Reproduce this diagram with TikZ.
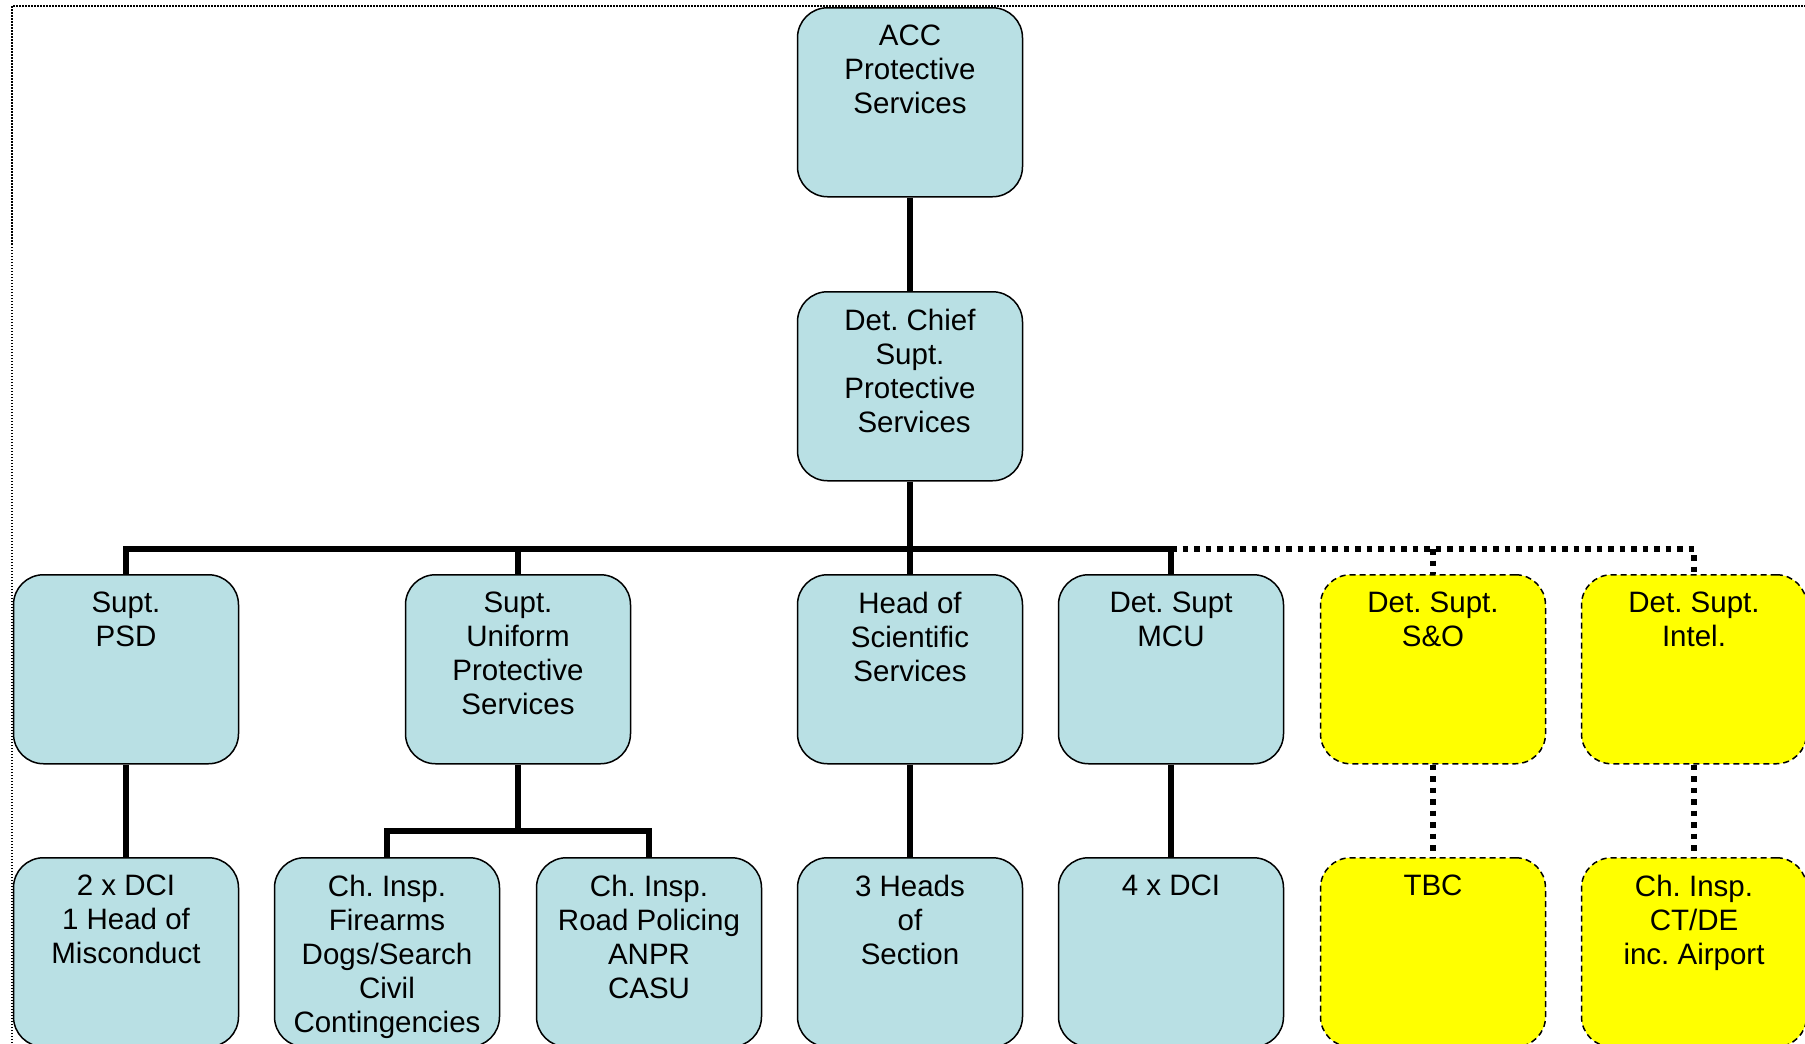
\documentclass[tikz,border=0pt]{standalone}
\usepackage{fontspec}
\setmainfont{Liberation Sans}
\frenchspacing
\definecolor{boxblue}{RGB}{185,224,228}
\definecolor{boxyellow}{RGB}{255,255,0}
\begin{document}
\begin{tikzpicture}[x=1pt,y=-1pt,
  unit/.style={draw=black, line width=1.5pt, rounded corners=30pt,
    minimum width=225pt, minimum height=189pt, anchor=north, inner sep=0pt},
  bluebox/.style={unit, fill=boxblue},
  yellowbox/.style={unit, fill=boxyellow, dash pattern=on 6pt off 4pt},
  lbl/.style={anchor=north, yshift=-18pt, align=center, inner sep=0pt,
    font=\fontsize{29.5}{34}\selectfont},
  conn/.style={line width=6pt, line join=miter},
  dotconn/.style={line width=5.5pt, dash pattern=on 5.5pt off 6pt},
  frame/.style={line width=1.3pt, dash pattern=on 1.5pt off 1.5pt}
]
\useasboundingbox (0,0) rectangle (1805,1044);
\clip (0,0) rectangle (1805,1044);

% outer page frame
\draw[frame] (12,1100) -- (12,6) -- (1900,6);

% bus levels
\coordinate (bus) at (0,549);
\coordinate (sub) at (0,831);

% boxes
\node[bluebox, label={[lbl]north:{ACC\\Protective\\Services}}] (acc) at (910,7) {};
\node[bluebox, label={[lbl]north:{Det. Chief\\Supt.\\Protective\\\hspace*{0.278em}Services}}] (dcs) at (910,291) {};

\node[bluebox, label={[lbl]north:{Supt.\\PSD}}] (psd) at (126,574) {};
\node[bluebox, label={[lbl]north:{Supt.\\Uniform\\Protective\\Services}}] (uni) at (518,574) {};
\node[bluebox, label={[lbl]north:{Head of\\Scientific\\Services}}] (sci) at (910,574) {};
\node[bluebox, label={[lbl]north:{Det. Supt\\MCU}}] (mcu) at (1171,574) {};
\node[yellowbox, label={[lbl]north:{Det. Supt.\\S\&O}}] (so) at (1433,574) {};
\node[yellowbox, label={[lbl]north:{Det. Supt.\\Intel.}}] (intel) at (1694,574) {};

\node[bluebox, label={[lbl]north:{2 x DCI\\1 Head of\\Misconduct}}] (dci) at (126,857) {};
\node[bluebox, label={[lbl]north:{Ch. Insp.\\Firearms\\Dogs/Search\\Civil\\Contingencies}}] (fire) at (387,857) {};
\node[bluebox, label={[lbl]north:{Ch. Insp.\\Road Policing\\ANPR\\CASU}}] (road) at (649,857) {};
\node[bluebox, label={[lbl]north:{3 Heads\\of\\Section}}] (heads) at (910,857) {};
\node[bluebox, label={[lbl]north:{4 x DCI}}] (dcifour) at (1171,857) {};
\node[yellowbox, label={[lbl]north:{TBC}}] (tbc) at (1433,857) {};
\node[yellowbox, label={[lbl]north:{Ch. Insp.\\CT/DE\\inc. Airport}}] (ctde) at (1694,857) {};

% solid reporting lines
\draw[conn] (acc.south) -- (dcs.north);
\draw[conn] (dcs.south) -- (sci.north);
\draw[conn] (psd.north) -- (psd.north |- bus) -- (mcu.north |- bus) -- (mcu.north);
\draw[conn] (uni.north) -- (uni.north |- bus);
\draw[conn] (psd.south) -- (dci.north);
\draw[conn] (uni.south) -- (uni.south |- sub);
\draw[conn] (fire.north) -- (fire.north |- sub) -- (road.north |- sub) -- (road.north);
\draw[conn] (sci.south) -- (heads.north);
\draw[conn] (mcu.south) -- (dcifour.north);

% dotted reporting lines
\draw[dotconn] (mcu.north |- bus) -- (intel.north |- bus) -- (intel.north);
\draw[dotconn] (so.north |- bus) -- (so.north);
\draw[dotconn] (so.south) -- (tbc.north);
\draw[dotconn] (intel.south) -- (ctde.north);
\end{tikzpicture}
\end{document}
